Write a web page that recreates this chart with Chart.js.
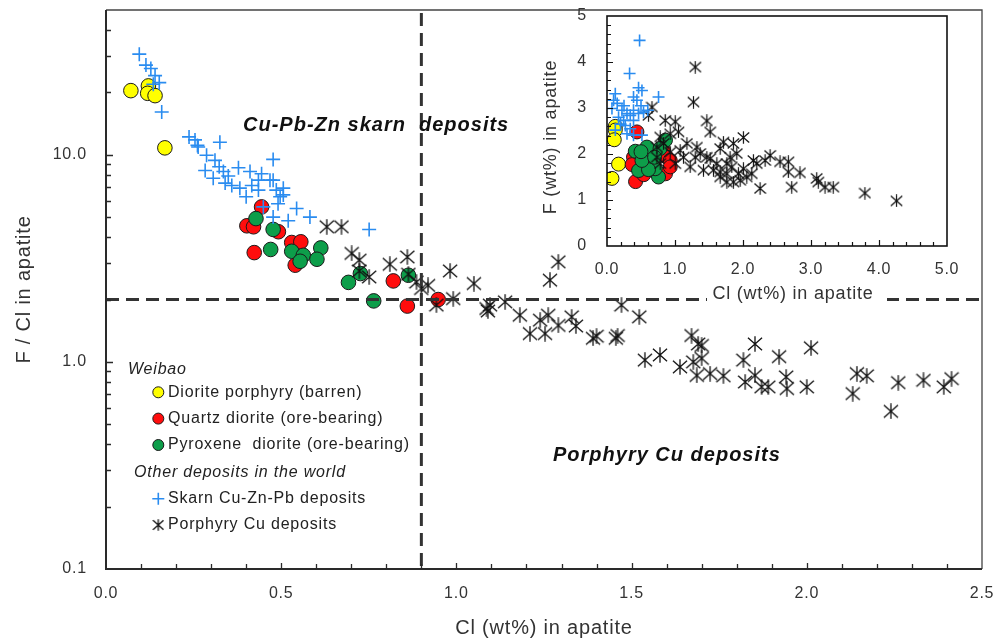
<!DOCTYPE html>
<html><head><meta charset="utf-8">
<script src="https://cdn.jsdelivr.net/npm/chart.js@4.4.0/dist/chart.umd.min.js"></script>
<style>
html,body{margin:0;padding:0;background:#fff;}
#wrap{position:relative;width:1007px;height:638px;overflow:hidden;}
#main{position:absolute;left:0;top:0;width:1007px;height:638px;}
#inset{position:absolute;left:527px;top:0;width:460px;height:305px;}
</style></head><body>
<div id="wrap"><canvas id="main" width="1007" height="638"></canvas><canvas id="inset" width="460" height="305"></canvas></div>
<script>
// ---------- Main diagram: Cl (wt%) vs F/Cl ----------
const dioriteCl  = [0.071, 0.121, 0.119, 0.140, 0.168];
const dioriteFCl = [20.4, 21.5, 19.8, 19.3, 10.8];

const quartzCl  = [0.444,0.402,0.421,0.492,0.423,0.530,0.556,0.540,0.820,0.860,0.948];
const quartzFCl = [5.6,4.54,4.49,4.25,3.37,3.77,3.80,2.93,2.46,1.86,2.0];

const pyroxCl  = [0.428,0.477,0.470,0.530,0.563,0.554,0.613,0.602,0.692,0.726,0.764,0.863];
const pyroxFCl = [4.92,4.36,3.49,3.42,3.27,3.06,3.55,3.13,2.42,2.67,1.97,2.62];

const skarnCl  = [0.095,0.114,0.128,0.140,0.152,0.135,0.159,0.237,0.254,0.261,0.325,0.287,0.311,0.263,0.283,0.323,0.335,0.306,0.349,0.378,0.477,0.340,0.359,0.382,0.411,0.416,0.400,0.435,0.444,0.435,0.468,0.477,0.486,0.506,0.497,0.506,0.449,0.477,0.544,0.520,0.582,0.491,0.751];
const skarnFCl = [30.6,27.1,26.1,24.1,22.3,21.9,16.1,12.2,11.8,11.1,11.5,9.95,9.4,10.9,8.4,8.75,8.3,7.7,7.9,8.65,9.5,7.3,7.1,6.9,8.3,7.1,6.27,7.54,8.1,6.75,7.54,7.54,6.75,6.9,6.27,6.4,5.6,5.0,5.5,4.8,5.0,5.8,4.36];

const porphCl  = [0.630,0.672,0.701,0.723,0.723,0.751,0.810,0.860,0.863,0.886,0.900,0.919,0.982,0.991,0.943,1.050,1.086,1.096,1.090,1.139,1.291,1.267,1.181,1.210,1.239,1.262,1.253,1.291,1.329,1.341,1.390,1.400,1.455,1.460,1.471,1.522,1.538,1.581,1.638,1.671,1.690,1.676,1.700,1.686,1.700,1.724,1.762,1.852,1.819,1.824,1.852,1.871,1.890,1.921,1.941,1.943,2.000,2.012,2.143,2.171,2.131,2.240,2.261,2.333,2.391,2.413];
const porphFCl = [4.49,4.49,3.34,3.10,2.75,2.57,2.96,3.21,2.65,2.43,2.26,2.34,2.75,2.02,1.88,2.39,1.81,1.88,1.76,1.95,3.04,2.48,1.68,1.37,1.59,1.68,1.37,1.50,1.65,1.49,1.30,1.33,1.30,1.34,1.88,1.65,1.02,1.08,0.946,1.34,1.22,1.00,1.04,0.86,1.20,0.878,0.856,1.22,1.02,0.80,0.86,0.757,0.757,1.06,0.846,0.743,0.757,1.17,0.878,0.856,0.703,0.577,0.794,0.815,0.757,0.83];

const mainXTicks = [0, 0.5, 1.0, 1.5, 2.0, 2.5];
const mainYTicks = [0.1, 1, 10];
const boundaryCl = 0.9;   // vertical dashed boundary
const boundaryFCl = 2;    // horizontal dashed boundary

// ---------- Inset: Cl (wt%) vs F (wt%) ----------
const inDioriteCl = [0.122,0.122,0.107,0.170,0.073];
const inDioriteF  = [2.60,2.52,2.31,1.78,1.47];

const inQuartzCl = [0.44,0.39,0.37,0.42,0.54,0.66,0.83,0.86,0.88,0.93,0.93];
const inQuartzF  = [2.48,1.93,1.77,1.40,1.55,1.65,2.08,1.57,1.93,1.86,1.72];

const inPyroxCl = [0.416,0.587,0.537,0.464,0.758,0.86,0.709,0.78,0.61,0.514,0.70,0.50];
const inPyroxF  = [2.06,2.15,1.86,1.64,1.50,2.30,1.68,2.12,1.66,1.86,1.93,2.05];

const inSkarnCl = [0.479,0.332,0.464,0.514,0.758,0.122,0.097,0.390,0.440,0.073,0.220,0.294,0.342,0.464,0.537,0.170,0.244,0.390,0.122,0.294,0.390,0.514,0.342,0.269,0.390,0.250,0.500,0.600,0.200,0.150];
const inSkarnF  = [4.47,3.75,3.44,3.38,3.24,3.31,3.17,3.24,3.17,2.99,2.95,2.88,2.84,2.88,2.91,2.80,2.73,2.73,2.52,2.44,2.41,2.41,2.55,2.62,2.95,3.05,3.05,2.95,2.65,3.10];

const inPorphCl = [1.297,1.272,0.661,0.611,0.856,1.003,1.468,1.517,0.783,1.051,1.175,2.006,1.712,1.859,1.322,0.831,0.930,1.076,1.370,1.468,1.664,1.909,2.153,2.398,2.325,2.545,2.667,2.838,2.667,2.203,2.251,2.716,3.084,3.107,3.206,3.327,3.793,4.258,1.566,1.664,1.762,1.859,1.958,2.056,1.615,1.762,1.223,1.125,0.734,0.734,1.835,1.517,1.297,0.930,0.783,1.003,1.419,1.810,1.932,2.006,2.129,1.664,1.762];
const inPorphF  = [3.89,3.13,3.02,2.84,2.73,2.70,2.72,2.48,2.37,2.48,2.23,2.36,2.26,2.23,2.15,2.23,2.04,2.08,2.01,1.93,2.12,2.01,1.86,1.97,1.86,1.83,1.83,1.59,1.61,1.79,1.25,1.28,1.47,1.39,1.28,1.28,1.15,0.98,1.65,1.50,1.57,1.39,1.43,1.50,1.79,1.79,1.72,1.93,1.93,2.15,1.72,1.90,1.93,2.44,1.79,1.79,1.65,1.93,1.57,1.68,1.57,1.61,1.39];

const insetTicks = [0, 1, 2, 3, 4, 5];

// ---------- Labels ----------
const legendItems = [
  {kind:'header', text:'Weibao'},
  {kind:'circle', color:'#ffff00', text:'Diorite porphyry (barren)'},
  {kind:'circle', color:'#ff0d0d', text:'Quartz diorite (ore-bearing)'},
  {kind:'circle', color:'#0d9e4a', text:'Pyroxene  diorite (ore-bearing)'},
  {kind:'header', text:'Other deposits in the world'},
  {kind:'cross', color:'#2a8cf0', text:'Skarn Cu-Zn-Pb deposits'},
  {kind:'star', color:'#111', text:'Porphyry Cu deposits'}
];
const fieldLabels = ['Cu-Pb-Zn skarn  deposits', 'Porphyry Cu deposits'];

// ---------- styles ----------
const FONT = '"Liberation Sans", Arial, Helvetica, sans-serif';
const TXT = '#333';
const BLUE = '#2a8cf0', RED = '#ff0d0d', GREEN = '#0d9e4a', YELLOW = '#ffff00';

function zip(xs, ys){ return xs.map((x,i)=>({x:x, y:ys[i]})); }

function asterisk(size, lw){
  const c = document.createElement('canvas');
  c.width = size; c.height = size;
  const g = c.getContext('2d');
  const h = size/2;
  g.strokeStyle = '#111'; g.lineWidth = lw;
  g.beginPath();
  g.moveTo(h, 0.3); g.lineTo(h, size-0.3);
  const dx = h*0.88, dy = h*0.78;
  g.moveTo(h-dx, h-dy); g.lineTo(h+dx, h+dy);
  g.moveTo(h+dx, h-dy); g.lineTo(h-dx, h+dy);
  g.stroke();
  return c;
}
const starMain = asterisk(16, 1.3);
const starInset = asterisk(13, 1.2);
const starLegend = asterisk(12, 1.3);

function makeDatasets(sk, po, py, qz, di, small){
  const r = small ? 7 : 7.3;
  return [
    {label:'Skarn Cu-Zn-Pb deposits', data:sk, pointStyle:'cross', radius: small?6:7, borderColor:BLUE, backgroundColor:BLUE, borderWidth:1.6},
    {label:'Porphyry Cu deposits', data:po, pointStyle: small?starInset:starMain, radius:8, borderColor:'#111', backgroundColor:'#111'},
    {label:'Pyroxene diorite (ore-bearing)', data:py, pointStyle:'circle', radius:r, backgroundColor:GREEN, borderColor:'#1a1a1a', borderWidth:1},
    {label:'Quartz diorite (ore-bearing)', data:qz, pointStyle:'circle', radius:r, backgroundColor:RED, borderColor:'#1a1a1a', borderWidth:1},
    {label:'Diorite porphyry (barren)', data:di, pointStyle:'circle', radius:r, backgroundColor:YELLOW, borderColor:'#1a1a1a', borderWidth:1}
  ];
}

// invisible tick marks reserve the gap between axis and labels
function hiddenGrid(len){
  return {display:true, drawOnChartArea:false, drawTicks:true, tickLength:len, color:'rgba(0,0,0,0)'};
}

const spacingPlugin = { id:'spacing', beforeDraw(chart){ chart.ctx.letterSpacing = '0.8px'; } };

const mainDecor = {
  id:'mainDecor',
  afterDatasetsDraw(chart){
    const {ctx, chartArea:a, scales:{x, y}} = chart;
    ctx.save();
    ctx.strokeStyle = '#333'; ctx.lineWidth = 3; ctx.setLineDash([13, 7]);
    const yb = y.getPixelForValue(boundaryFCl);
    ctx.beginPath(); ctx.moveTo(a.left, yb); ctx.lineTo(a.right, yb); ctx.stroke();
    const xb = x.getPixelForValue(boundaryCl);
    ctx.beginPath(); ctx.moveTo(xb, a.top+3); ctx.lineTo(xb, a.bottom); ctx.stroke();
    ctx.restore();
  },
  afterDraw(chart){
    const {ctx, chartArea:a, scales:{x, y}} = chart;
    ctx.save();
    ctx.letterSpacing = '0px';
    // frame
    ctx.strokeStyle = '#444'; ctx.lineWidth = 1.3;
    ctx.beginPath(); ctx.moveTo(a.left, a.top); ctx.lineTo(a.right, a.top); ctx.lineTo(a.right, a.bottom); ctx.stroke();
    ctx.strokeStyle = '#2a2a2a'; ctx.lineWidth = 2;
    ctx.beginPath(); ctx.moveTo(a.left, a.top); ctx.lineTo(a.left, a.bottom); ctx.lineTo(a.right, a.bottom); ctx.stroke();
    // inward ticks
    ctx.lineWidth = 1.3;
    ctx.beginPath();
    for (let i = 1; i < 25; i++){
      const px = Math.round(x.getPixelForValue(i/10)) + 0.5;
      ctx.moveTo(px, a.bottom); ctx.lineTo(px, a.bottom - (i%5===0 ? 6 : 5));
    }
    [0.1,1,10].forEach(dec => {
      for (let m = 1; m <= 9; m++){
        const v = dec*m;
        if (v <= 0.1 || v >= 50) continue;
        const py = Math.round(y.getPixelForValue(v)) + 0.5;
        ctx.moveTo(a.left, py); ctx.lineTo(a.left + (m===1 ? 7 : 5), py);
      }
    });
    ctx.stroke();
    // field labels
    ctx.fillStyle = '#111';
    ctx.letterSpacing = '1px';
    ctx.font = 'italic bold 20px ' + FONT;
    ctx.textAlign = 'left'; ctx.textBaseline = 'alphabetic';
    ctx.fillText(fieldLabels[0], 243, 131);
    ctx.fillText(fieldLabels[1], 553, 461);
    // legend
    ctx.letterSpacing = '0.8px';
    const rows = [370, 392.3, 418.6, 445, 472.3, 498.7, 525];
    legendItems.forEach((it, i) => {
      const cy = rows[i];
      ctx.textBaseline = 'middle';
      ctx.fillStyle = '#222';
      if (it.kind === 'header'){
        ctx.font = 'italic 16px ' + FONT;
        ctx.fillText(it.text, i === 0 ? 128 : 134, cy);
        return;
      }
      const mx = 158.3;
      if (it.kind === 'circle'){
        ctx.beginPath(); ctx.arc(mx, cy, 5.5, 0, Math.PI*2);
        ctx.fillStyle = it.color; ctx.fill();
        ctx.strokeStyle = '#1a1a1a'; ctx.lineWidth = 1; ctx.stroke();
      } else if (it.kind === 'cross'){
        ctx.strokeStyle = it.color; ctx.lineWidth = 1.6;
        ctx.beginPath(); ctx.moveTo(mx-6, cy); ctx.lineTo(mx+6, cy); ctx.moveTo(mx, cy-6); ctx.lineTo(mx, cy+6); ctx.stroke();
      } else {
        ctx.drawImage(starLegend, mx - 6, cy - 6);
      }
      ctx.fillStyle = '#222';
      ctx.font = '16px ' + FONT;
      ctx.fillText(it.text, 168, cy);
    });
    ctx.restore();
  }
};

new Chart(document.getElementById('main'), {
  type:'scatter',
  data:{ datasets: makeDatasets(zip(skarnCl, skarnFCl), zip(porphCl, porphFCl), zip(pyroxCl, pyroxFCl), zip(quartzCl, quartzFCl), zip(dioriteCl, dioriteFCl), false) },
  options:{
    responsive:false, animation:false, devicePixelRatio:1,
    layout:{padding:{top:10, right:25, left:0, bottom:0}},
    plugins:{legend:{display:false}, tooltip:{enabled:false}},
    scales:{
      x:{type:'linear', min:0, max:2.5,
        grid:hiddenGrid(15), border:{display:false},
        afterBuildTicks: s => { s.ticks = mainXTicks.map(v => ({value:v})); },
        ticks:{padding:0, color:TXT, font:{family:FONT, size:16}, maxRotation:0, autoSkip:false, callback: v => Number(v).toFixed(1)},
        title:{display:true, text:'Cl (wt%) in apatite', color:TXT, font:{family:FONT, size:20, lineHeight:1}, padding:{top:0, bottom:0}},
        afterFit: s => { s.height = 69; }
      },
      y:{type:'logarithmic', min:0.1, max:50,
        grid:hiddenGrid(19), border:{display:false},
        afterBuildTicks: s => { s.ticks = mainYTicks.map(v => ({value:v})); },
        ticks:{padding:0, color:TXT, font:{family:FONT, size:16}, autoSkip:false, callback: v => Number(v).toFixed(1)},
        title:{display:true, text:'F / Cl in apatite', color:TXT, font:{family:FONT, size:20, lineHeight:1}, padding:{top:14, bottom:0}},
        afterFit: s => { s.width = 106; }
      }
    }
  },
  plugins:[spacingPlugin, mainDecor]
});

// ---------- inset ----------
const insetDecor = {
  id:'insetDecor',
  beforeDraw(chart){
    const ctx = chart.ctx;
    ctx.save();
    ctx.fillStyle = '#fff';
    ctx.fillRect(180, 284, 180, 20);
    ctx.restore();
  },
  afterDraw(chart){
    const {ctx, chartArea:a, scales:{x, y}} = chart;
    ctx.save();
    ctx.letterSpacing = '0px';
    ctx.strokeStyle = '#111'; ctx.lineWidth = 1.6;
    ctx.strokeRect(a.left, a.top, a.right - a.left, a.bottom - a.top);
    ctx.lineWidth = 1.2;
    ctx.beginPath();
    for (let i = 1; i < 25; i++){
      const px = Math.round(x.getPixelForValue(i/5)) + 0.5;
      ctx.moveTo(px, a.bottom); ctx.lineTo(px, a.bottom - (i%5===0 ? 6 : 4));
      const py = Math.round(y.getPixelForValue(i/5)) + 0.5;
      ctx.moveTo(a.left, py); ctx.lineTo(a.left + (i%5===0 ? 6 : 4), py);
    }
    ctx.stroke();
    // axis titles
    ctx.fillStyle = TXT;
    ctx.letterSpacing = '0.8px';
    ctx.font = '18px ' + FONT;
    ctx.textAlign = 'center'; ctx.textBaseline = 'middle';
    ctx.fillText('Cl (wt%) in apatite', 266, 294);
    ctx.translate(24, 137);
    ctx.rotate(-Math.PI/2);
    ctx.fillText('F (wt%) in apatite', 0, 0);
    ctx.restore();
  }
};

new Chart(document.getElementById('inset'), {
  type:'scatter',
  data:{ datasets: makeDatasets(zip(inSkarnCl, inSkarnF), zip(inPorphCl, inPorphF), zip(inPyroxCl, inPyroxF), zip(inQuartzCl, inQuartzF), zip(inDioriteCl, inDioriteF), true) },
  options:{
    responsive:false, animation:false, devicePixelRatio:1,
    layout:{padding:{top:16, right:40, left:0, bottom:0}},
    plugins:{legend:{display:false}, tooltip:{enabled:false}},
    scales:{
      x:{type:'linear', min:0, max:5,
        grid:hiddenGrid(14), border:{display:false},
        afterBuildTicks: s => { s.ticks = insetTicks.map(v => ({value:v})); },
        ticks:{padding:0, color:TXT, font:{family:FONT, size:16}, maxRotation:0, autoSkip:false, callback: v => Number(v).toFixed(1)},
        afterFit: s => { s.height = 59; }
      },
      y:{type:'linear', min:0, max:5,
        grid:hiddenGrid(20), border:{display:false},
        afterBuildTicks: s => { s.ticks = insetTicks.map(v => ({value:v})); },
        ticks:{padding:0, color:TXT, font:{family:FONT, size:16}, autoSkip:false, callback: v => String(v)},
        afterFit: s => { s.width = 80; }
      }
    }
  },
  plugins:[spacingPlugin, insetDecor]
});
</script>
</body></html>
